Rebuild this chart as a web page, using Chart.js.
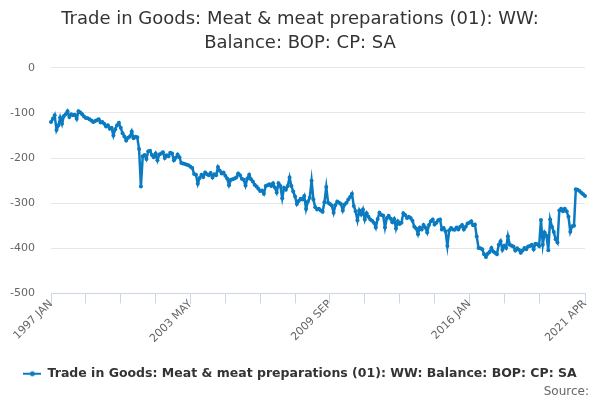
<!DOCTYPE html>
<html>
<head>
<meta charset="utf-8">
<script src="https://cdn.jsdelivr.net/npm/chart.js@4"></script>
<style>
  body { margin: 0; background: #fff; }
  #wrap { position: relative; width: 600px; height: 400px; }
  #source { position: absolute; right: 11px; bottom: 2px; font: 12px "DejaVu Sans", sans-serif; color: #666; }
</style>
</head>
<body>
<div id="wrap">
  <canvas id="grafico"></canvas>
  <div id="source">Source:</div>
</div>
<script>
// meses e ano inicial da serie
const meses = ['JAN','FEB','MAR','APR','MAY','JUN','JUL','AUG','SEP','OCT','NOV','DEC']
const anoInicio = 1997

// valores (GBP milhoes), um por mes de 1997 JAN a 2021 APR
const valores = [
  -120, -113, -105, -138, -128, -110, -124, -107, -103,  -96, -109, -103,  // 1997
  -105, -104, -113,  -96,  -99, -103, -108, -111, -112, -114, -117, -120,  // 1998
  -118, -116, -114, -121, -120, -124, -130, -127, -135, -133, -150, -136,  // 1999
  -127, -122, -133, -145, -152, -161, -155, -152, -141, -156, -153, -154,  // 2000
  -180, -263, -196, -193, -202, -185, -184, -193, -198, -190, -205, -192,  // 2001
  -190, -187, -200, -194, -196, -188, -190, -205, -199, -192, -198, -211,  // 2002
  -212, -213, -215, -216, -219, -222, -235, -237, -257, -244, -237, -242,  // 2003
  -232, -236, -238, -233, -243, -236, -238, -220, -228, -234, -232, -239,  // 2004
  -245, -260, -248, -247, -245, -243, -234, -238, -246, -248, -261, -245,  // 2005
  -237, -247, -252, -259, -263, -268, -273, -272, -279, -262, -260, -258,  // 2006
  -262, -256, -265, -276, -256, -262, -289, -266, -270, -262, -243, -262,  // 2007
  -274, -285, -302, -295, -290, -292, -284, -313, -296, -288, -250, -292,  // 2008
  -309, -314, -312, -316, -319, -298, -264, -299, -302, -305, -321, -304,  // 2009
  -296, -299, -302, -316, -303, -299, -292, -286, -279, -306, -318, -338,  // 2010
  -316, -325, -314, -336, -322, -330, -336, -339, -343, -354, -335, -321,  // 2011
  -326, -327, -354, -333, -328, -334, -342, -335, -356, -340, -346, -343,  // 2012
  -322, -326, -333, -330, -333, -339, -352, -356, -369, -354, -358, -348,  // 2013
  -354, -365, -348, -340, -336, -347, -343, -338, -336, -358, -355, -362,  // 2014
  -395, -360, -355, -358, -359, -354, -358, -352, -348, -358, -352, -345,  // 2015
  -343, -340, -349, -347, -374, -399, -400, -402, -413, -419, -412, -408,  // 2016
  -399, -407, -410, -413, -392, -384, -403, -394, -399, -373, -392, -394,  // 2017
  -396, -405, -400, -403, -410, -405, -399, -402, -396, -395, -392, -402,  // 2018
  -390, -391, -395, -337, -392, -365, -372, -404, -336, -352, -364, -380,  // 2019
  -387, -316, -312, -318, -312, -318, -330, -363, -351, -350, -269, -270,  // 2020
  -273, -277, -280, -284                                                   // 2021
]

const rotulos = []
for (let i = 0; i < valores.length; i++) {
    rotulos.push((anoInicio + Math.floor(i / 12)) + ' ' + meses[i % 12])
}

const nomeSerie = 'Trade in Goods: Meat & meat preparations (01): WW: Balance: BOP: CP: SA'
const tituloLinhas = ['Trade in Goods: Meat & meat preparations (01): WW:', 'Balance: BOP: CP: SA']

const azul = '#0b7bc1'
const fonte = '"DejaVu Sans", sans-serif'

// simbolo da legenda: linha com bolinha
const simbolo = document.createElement('canvas')
simbolo.width = 18
simbolo.height = 8
const sctx = simbolo.getContext('2d')
sctx.strokeStyle = azul
sctx.lineWidth = 2
sctx.beginPath()
sctx.moveTo(0, 4)
sctx.lineTo(18, 4)
sctx.stroke()
sctx.fillStyle = azul
sctx.beginPath()
sctx.arc(9, 4, 2.5, 0, Math.PI * 2)
sctx.fill()

const ctx = document.getElementById('grafico')
const chartGraph = new Chart(ctx, {
    type: 'line',
    data: {
        labels: rotulos,
        datasets: [{
            label: nomeSerie,
            data: valores,
            borderColor: azul,
            backgroundColor: azul,
            borderWidth: 2.5,
            pointRadius: 2,
            pointBorderWidth: 0,
            pointHoverRadius: 3,
            tension: 0
        }]
    },
    options: {
        responsive: true,
        maintainAspectRatio: false,
        animation: false,
        layout: { padding: { left: 0, right: 0, top: 0, bottom: 10 } },
        plugins: {
            title: {
                display: true,
                text: tituloLinhas,
                color: '#333333',
                font: { family: fonte, size: 18, weight: 'normal', lineHeight: 1.3 },
                padding: { top: 8, bottom: 13 }
            },
            legend: {
                display: true,
                position: 'bottom',
                labels: {
                    usePointStyle: true,
                    pointStyle: simbolo,
                    pointStyleWidth: 18,
                    color: '#333333',
                    font: { family: fonte, size: 12.5, weight: 'bold' },
                    padding: 10
                }
            },
            tooltip: { enabled: false }
        },
        scales: {
            x: {
                afterFit: function(scale) {
                    scale.height = 64
                    scale.paddingRight = 15
                },
                afterBuildTicks: function(scale) {
                    const n = valores.length
                    scale.ticks = scale.ticks.filter(t => (t.value % 19 === 0 && t.value < n - 20) || t.value === n - 1)
                },
                grid: {
                    drawOnChartArea: false,
                    drawTicks: true,
                    tickLength: 10,
                    color: '#ccd6eb'
                },
                border: { display: true, color: '#ccd6eb' },
                ticks: {
                    autoSkip: false,
                    minRotation: 45,
                    maxRotation: 45,
                    padding: -6,
                    color: '#666666',
                    font: { family: fonte, size: 11 },
                    callback: function(val) {
                        if (val % 76 === 0 || val === valores.length - 1) return this.getLabelForValue(val)
                        return ''
                    }
                }
            },
            y: {
                min: -500,
                max: 0,
                afterFit: function(scale) { scale.width = 51 },
                grid: { color: '#e6e6e6', drawTicks: false },
                border: { display: false },
                ticks: {
                    stepSize: 100,
                    padding: 16,
                    color: '#666666',
                    font: { family: fonte, size: 11 }
                }
            }
        }
    }
})
</script>
</body>
</html>
